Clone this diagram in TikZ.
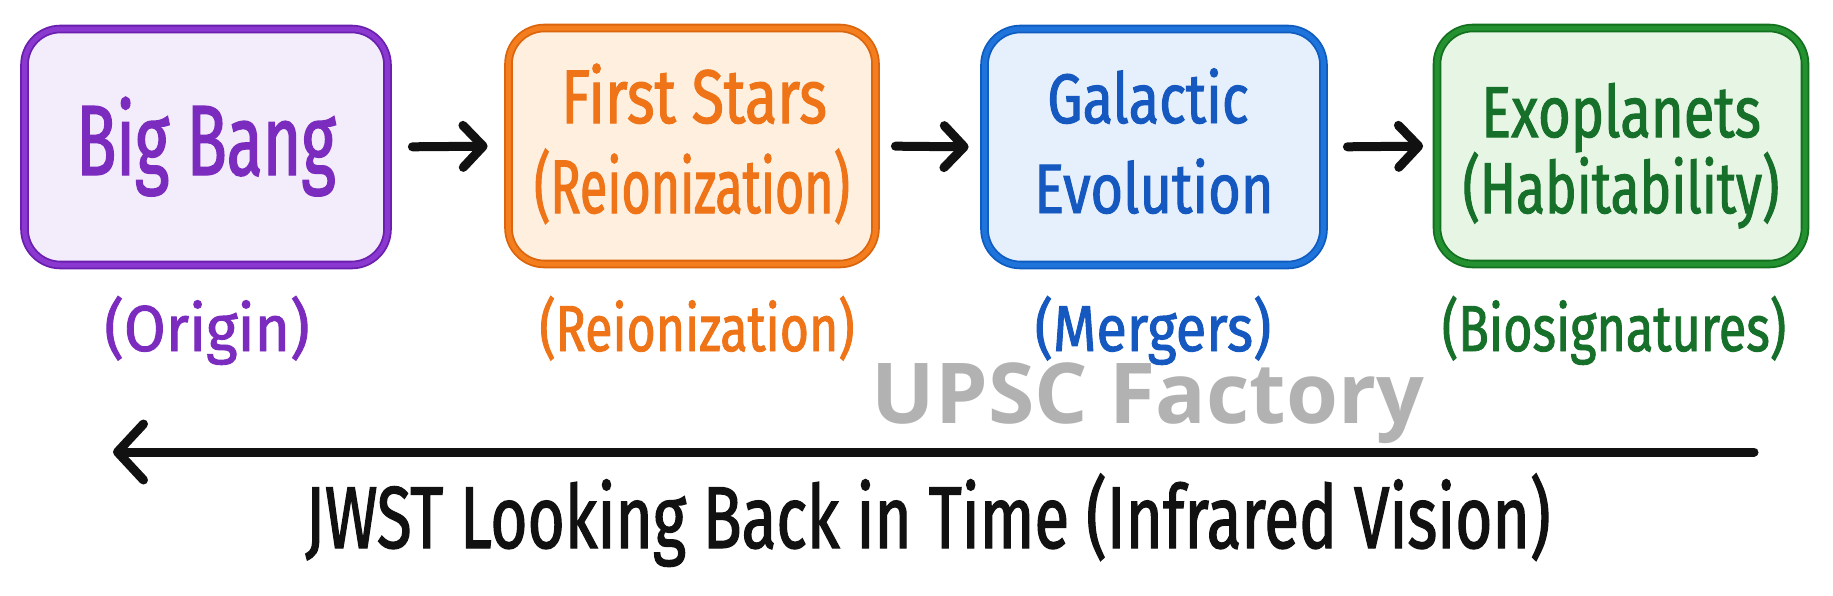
\documentclass[tikz,border=0pt]{standalone}
\usepackage{fontspec}
\setmainfont{Fira Sans}
\newfontfamily\wmfont{Open Sans}
\usetikzlibrary{arrows.meta}
\newcommand\hw[3]{\fontsize{#1}{#2}\selectfont\addfontfeature{FakeStretch=#3,FakeBold=1.4}}
\definecolor{pborder}{HTML}{8A38D0}
\definecolor{pdark}{HTML}{6A1FAE}
\definecolor{pfill}{HTML}{F3ECFB}
\definecolor{ptext}{HTML}{7B2CBF}
\definecolor{oborder}{HTML}{F47E1E}
\definecolor{odark}{HTML}{DA650C}
\definecolor{ofill}{HTML}{FEEFDF}
\definecolor{otext}{HTML}{EF7317}
\definecolor{bborder}{HTML}{1F74DC}
\definecolor{bdark}{HTML}{0F5CC0}
\definecolor{bfill}{HTML}{E6F0FC}
\definecolor{btext}{HTML}{1458C0}
\definecolor{gborder}{HTML}{23912F}
\definecolor{gdark}{HTML}{13701F}
\definecolor{gfill}{HTML}{E7F5E5}
\definecolor{gtext}{HTML}{17702A}
\definecolor{wmgray}{RGB}{178,178,178}
\definecolor{ink}{HTML}{111111}
\begin{document}
\begin{tikzpicture}[x=1pt,y=-1pt,
  stage/.style={rectangle, rounded corners=36pt, line width=1.8pt, double distance=5pt, minimum height=236pt, inner sep=0pt},
  txt/.style={anchor=base, inner sep=0pt},
  conn/.style={draw=ink, line width=9pt, line cap=round, -{Straight Barb[length=20pt,width=42pt,round]}},
  bigarrow/.style={draw=ink, line width=9pt, line cap=round, -{Straight Barb[length=26pt,width=56pt,round]}}
]
\path[use as bounding box, fill=white] (0,0) rectangle (1833,595);

% watermark
\node[txt, text=wmgray] (wm) at (1148,423) {\wmfont\bfseries\fontsize{84}{90}\selectfont UPSC Factory};

% boxes
\node[stage, draw=pdark, double=pborder, fill=pfill, minimum width=363pt] (b1) at (206,147) {};
\node[stage, draw=odark, double=oborder, fill=ofill, minimum width=367pt] (b2) at (692,146) {};
\node[stage, draw=bdark, double=bborder, fill=bfill, minimum width=339pt] (b3) at (1154,147) {};
\node[stage, draw=gdark, double=gborder, fill=gfill, minimum width=368pt] (b4) at (1621,146) {};

% box texts
\node[txt, text=ptext] (t1) at (206,175) {\hw{100}{110}{0.66}Big Bang};
\node[txt, text=otext] (t2a) at (694,123) {\hw{76}{90}{0.78}First Stars};
\node[txt, text=otext] (t2b) at (692,213) {\hw{76}{90}{0.66}(Reionization)};
\node[txt, text=btext] (t3a) at (1148,123) {\hw{70}{80}{0.8}Galactic};
\node[txt, text=btext] (t3b) at (1154,213) {\hw{70}{80}{0.8}Evolution};
\node[txt, text=gtext] (t4a) at (1621,137) {\hw{72}{84}{0.78}Exoplanets};
\node[txt, text=gtext] (t4b) at (1621,213) {\hw{72}{84}{0.74}(Habitability)};

% sub labels
\node[txt, text=ptext] (s1) at (207,351) {\hw{65}{75}{0.93}(Origin)};
\node[txt, text=otext] (s2) at (697,351) {\hw{65}{75}{0.77}(Reionization)};
\node[txt, text=btext] (s3) at (1153,351) {\hw{65}{75}{0.86}(Mergers)};
\node[txt, text=gtext] (s4) at (1614,351) {\hw{65}{75}{0.775}(Biosignatures)};

% connectors
\draw[conn, shorten <=24pt, shorten >=20pt] (b1.east) -- (b2.west);
\draw[conn, shorten <=19pt, shorten >=15pt] (b2.east) -- (b3.west);
\draw[conn, shorten <=23pt, shorten >=13pt] (b3.east) -- (b4.west);

% time arrow
\coordinate (tr) at (1754,452);
\coordinate (tl) at (113,452);
\draw[bigarrow] (tr) -- (tl);
\node[txt, text=ink] (jw) at (928,548) {\hw{88}{100}{0.725}JWST Looking Back in Time (Infrared Vision)};
\end{tikzpicture}
\end{document}
